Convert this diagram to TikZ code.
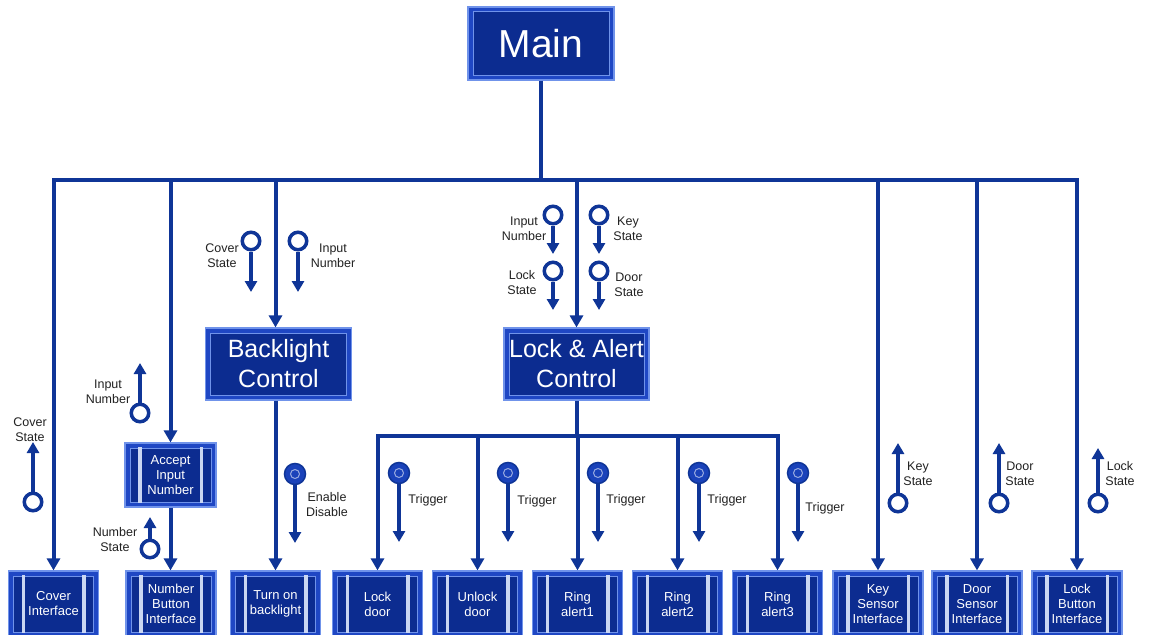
\documentclass[tikz,border=0pt]{standalone}
\usepackage{fontspec}
\setmainfont{Liberation Sans}
\usetikzlibrary{arrows.meta}
\definecolor{linec}{HTML}{0F3597}
\definecolor{boxout}{HTML}{1F47C4}
\definecolor{boxin}{HTML}{0C2C90}
\definecolor{framec}{HTML}{7093EA}
\definecolor{barc}{HTML}{CAD6F2}
\definecolor{txt}{HTML}{222222}
\definecolor{pinfill}{HTML}{1A42BA}
\tikzset{
  conn/.style={draw=linec, line width=4pt},
  arr/.style={conn, -{Triangle[width=13pt,length=12pt]}},
  parr/.style={draw=linec, line width=3.5pt, -{Triangle[width=12pt,length=11pt]}},
  bigbox/.style={draw=framec, line width=1.2pt, fill=boxout, text=white, align=center, inner sep=0pt,
    path picture={
      \fill[boxin] ([shift={(5pt,-5pt)}]path picture bounding box.north west) rectangle ([shift={(-5pt,5pt)}]path picture bounding box.south east);
      \draw[framec, line width=1pt] ([shift={(5pt,-5pt)}]path picture bounding box.north west) rectangle ([shift={(-5pt,5pt)}]path picture bounding box.south east);
    }},
  leaf/.style={draw=framec, line width=1.2pt, fill=boxout, text=white, align=center, inner sep=0pt,
    minimum width=90pt, minimum height=66pt, font=\fontsize{13}{15}\selectfont,
    path picture={
      \fill[boxin] ([shift={(5pt,-5pt)}]path picture bounding box.north west) rectangle ([shift={(-5pt,5pt)}]path picture bounding box.south east);
      \draw[framec, line width=1pt] ([shift={(5pt,-5pt)}]path picture bounding box.north west) rectangle ([shift={(-5pt,5pt)}]path picture bounding box.south east);
      \fill[barc] ([shift={(13pt,-4pt)}]path picture bounding box.north west) rectangle ([shift={(16.5pt,4pt)}]path picture bounding box.south west);
      \fill[barc] ([shift={(-16.5pt,-4pt)}]path picture bounding box.north east) rectangle ([shift={(-13pt,4pt)}]path picture bounding box.south east);
    }},
  opin/.style={circle, draw=linec, line width=3.5pt, fill=white, minimum size=17.5pt, inner sep=0pt},
  fpin/.style={circle, draw=linec, line width=1.5pt, fill=pinfill, minimum size=21pt, inner sep=0pt,
    path picture={\draw[white!55!pinfill, line width=1pt] (path picture bounding box.center) circle (4.5pt);}},
  lab/.style={text=txt, font=\fontsize{12.5}{15}\selectfont, align=center, inner sep=0pt},
}
\begin{document}
\begin{tikzpicture}[x=1pt, y=-1pt]
\useasboundingbox (0,0) rectangle (1150,634);
\fill[white] (0,0) rectangle (1150,634);

% main boxes
\node[bigbox, minimum width=146pt, minimum height=73pt, font=\fontsize{39}{44}\selectfont] (main) at (541,43.5) {Main};
\node[bigbox, minimum width=146pt, minimum height=72pt, font=\fontsize{25}{30}\selectfont] (backlight) at (278.5,364) {Backlight\\Control};
\node[bigbox, minimum width=145pt, minimum height=72pt, font=\fontsize{25}{30}\selectfont] (lockalert) at (576.5,364) {Lock \& Alert\\Control};
\node[leaf, minimum width=91pt, minimum height=64pt] (accept) at (170.5,475) {Accept\\Input\\Number};

% leaves
\node[leaf] (cover) at (53.5,604) {Cover\\Interface};
\node[leaf] (numbtn) at (171,604) {Number\\Button\\Interface};
\node[leaf] (turnon) at (275.5,604) {Turn on\\backlight};
\node[leaf] (lockdoor) at (377.5,604) {Lock\\door};
\node[leaf] (unlock) at (477.5,604) {Unlock\\door};
\node[leaf] (ring1) at (577.5,604) {Ring\\alert1};
\node[leaf] (ring2) at (677.5,604) {Ring\\alert2};
\node[leaf] (ring3) at (777.5,604) {Ring\\alert3};
\node[leaf] (keysens) at (878,604) {Key\\Sensor\\Interface};
\node[leaf] (doorsens) at (977,604) {Door\\Sensor\\Interface};
\node[leaf] (lockbtn) at (1077,604) {Lock\\Button\\Interface};

% top bus
\coordinate (bus) at (0,180);
\draw[conn] (main.south) -- (main.south |- bus);
\draw[conn, line cap=rect] (cover.north |- bus) -- (lockbtn.north |- bus);
\foreach \n in {cover,accept,lockalert,keysens,doorsens,lockbtn}
  \draw[arr] (\n.north |- bus) -- (\n.north);
\draw[arr] (turnon.north |- bus) -- (turnon.north |- backlight.north);

\draw[arr] (accept.south) -- (accept.south |- numbtn.north);
\draw[arr] (turnon.north |- backlight.south) -- (turnon.north);

% lock & alert bus
\coordinate (bus2) at (0,436);
\draw[conn] (lockalert.south) -- (lockalert.south |- bus2);
\draw[conn, line cap=rect] (lockdoor.north |- bus2) -- (ring3.north |- bus2);
\foreach \n in {lockdoor,unlock,ring1,ring2,ring3}
  \draw[arr] (\n.north |- bus2) -- (\n.north);

% pins (open)
\node[opin] (pa) at (33,502) {};   \coordinate (pat) at (33,442);   \draw[parr] (pa) -- (pat);
\node[opin] (pb) at (140,413) {};  \coordinate (pbt) at (140,363);  \draw[parr] (pb) -- (pbt);
\node[opin] (pc) at (150,549) {};  \coordinate (pct) at (150,517);  \draw[parr] (pc) -- (pct);
\node[opin] (pd) at (251,241) {};  \coordinate (pdt) at (251,292);  \draw[parr] (pd) -- (pdt);
\node[opin] (pe) at (298,241) {};  \coordinate (pet) at (298,292);  \draw[parr] (pe) -- (pet);
\node[opin] (pf) at (553,215) {};  \coordinate (pft) at (553,254);  \draw[parr] (pf) -- (pft);
\node[opin] (pg) at (553,271) {};  \coordinate (pgt) at (553,310);  \draw[parr] (pg) -- (pgt);
\node[opin] (ph) at (599,215) {};  \coordinate (pht) at (599,254);  \draw[parr] (ph) -- (pht);
\node[opin] (pi) at (599,271) {};  \coordinate (pit) at (599,310);  \draw[parr] (pi) -- (pit);
\node[opin] (pj) at (898,503) {};  \coordinate (pjt) at (898,443);  \draw[parr] (pj) -- (pjt);
\node[opin] (pk) at (999,503) {};  \coordinate (pkt) at (999,443);  \draw[parr] (pk) -- (pkt);
\node[opin] (pl) at (1098,503) {}; \coordinate (plt) at (1098,448); \draw[parr] (pl) -- (plt);

% pins (filled)
\node[fpin] (qa) at (295,474) {}; \coordinate (qat) at (295,543); \draw[parr] (qa) -- (qat);
\node[fpin] (qb) at (399,473) {}; \coordinate (qbt) at (399,542); \draw[parr] (qb) -- (qbt);
\node[fpin] (qc) at (508,473) {}; \coordinate (qct) at (508,542); \draw[parr] (qc) -- (qct);
\node[fpin] (qd) at (598,473) {}; \coordinate (qdt) at (598,542); \draw[parr] (qd) -- (qdt);
\node[fpin] (qe) at (699,473) {}; \coordinate (qet) at (699,542); \draw[parr] (qe) -- (qet);
\node[fpin] (qf) at (798,473) {}; \coordinate (qft) at (798,542); \draw[parr] (qf) -- (qft);

% labels
\node[lab] (la) at (30,430) {Cover\\State};
\node[lab] (lb) at (108,392) {Input\\Number};
\node[lab] (lc) at (115,540) {Number\\State};
\node[lab] (ld) at (222,256) {Cover\\State};
\node[lab] (le) at (333,256) {Input\\Number};
\node[lab] (lf) at (524,229) {Input\\Number};
\node[lab] (lg) at (522,283) {Lock\\State};
\node[lab] (lh) at (628,229) {Key\\State};
\node[lab] (li) at (629,285) {Door\\State};
\node[lab] (lj) at (918,474) {Key\\State};
\node[lab] (lk) at (1020,474) {Door\\State};
\node[lab] (ll) at (1120,474) {Lock\\State};
\node[lab] (ma) at (327,505) {Enable\\Disable};
\node[lab] (mb) at (428,500) {Trigger};
\node[lab] (mc) at (537,501) {Trigger};
\node[lab] (md) at (626,500) {Trigger};
\node[lab] (me) at (727,500) {Trigger};
\node[lab] (mf) at (825,508) {Trigger};
\end{tikzpicture}
\end{document}
